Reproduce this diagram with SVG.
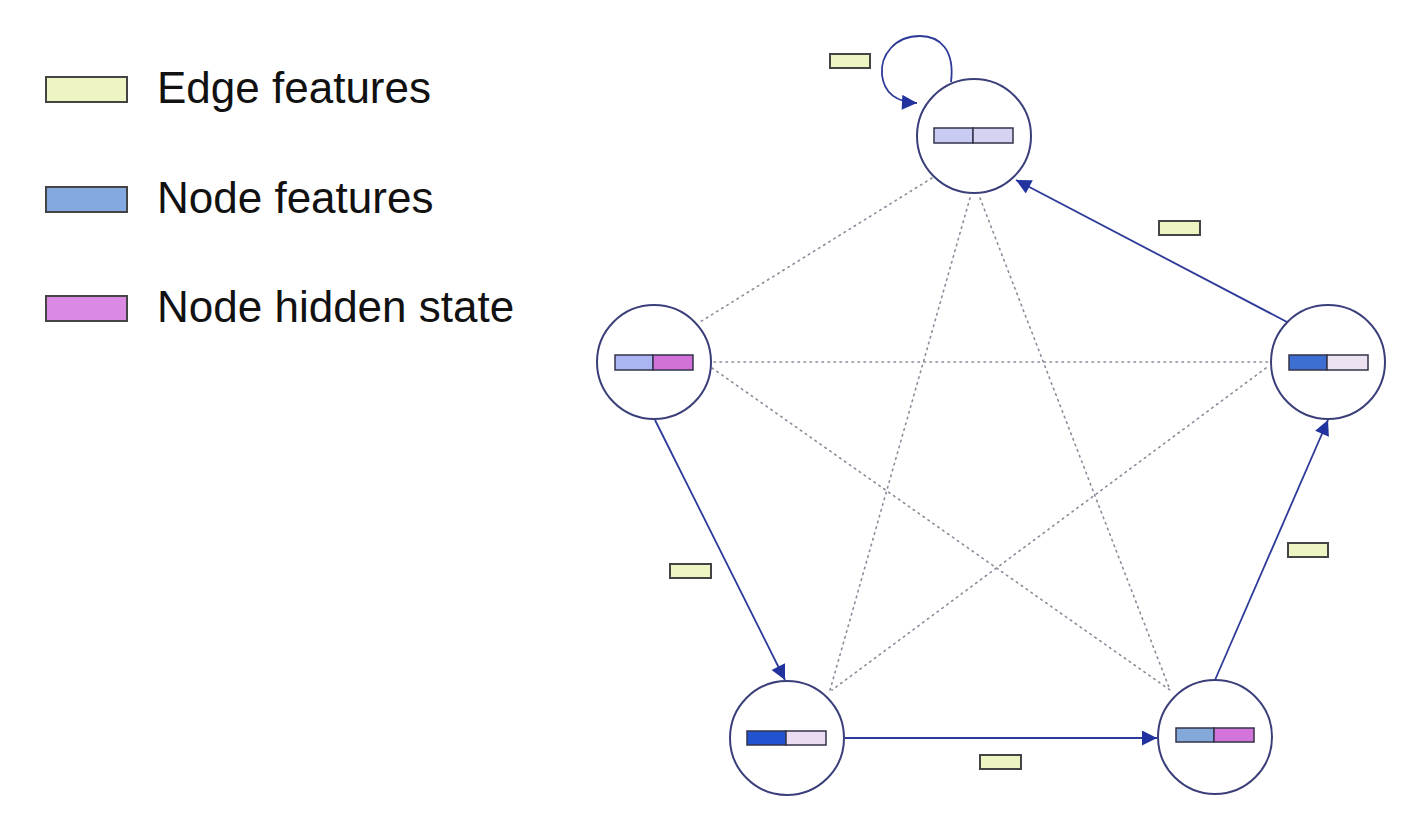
<svg xmlns="http://www.w3.org/2000/svg" width="1420" height="832" viewBox="0 0 1420 832">
<style>
.node{fill:#ffffff;stroke:#3a3f7a;stroke-width:2}
.bar{stroke:#33334a;stroke-width:1.5}
.ef{fill:#eef5c2;stroke:#444444;stroke-width:2}
.dot{fill:none;stroke:#8a8a9a;stroke-width:1.6;stroke-dasharray:1.5 4.5;stroke-linecap:round}
.arr{fill:none;stroke:#2d3a98;stroke-width:1.8}
.lbl{font-family:"Liberation Sans",Arial,sans-serif;font-size:44px;fill:#111111}
</style>
<defs>
<marker id="ah" viewBox="0 0 10 10" refX="10" refY="5" markerWidth="20" markerHeight="15" markerUnits="userSpaceOnUse" orient="auto">
<path d="M0,0 L10,5 L0,10 Z" fill="#2233a0"/>
</marker>
</defs>
<rect width="1420" height="832" fill="#ffffff"/>
<g id="legend">
<rect x="46" y="77" width="81" height="25" class="ef"/>
<text x="157" y="103" class="lbl">Edge features</text>
<rect x="46" y="187" width="81" height="25" fill="#84a8e0" stroke="#444" stroke-width="2"/>
<text x="157" y="213" class="lbl">Node features</text>
<rect x="46" y="296" width="81" height="25" fill="#da8ae2" stroke="#444" stroke-width="2"/>
<text x="157" y="322" class="lbl">Node hidden state</text>
</g>
<g id="connectors">
<line x1="932" y1="178" x2="700" y2="322" class="dot"/>
<line x1="970" y1="198" x2="830" y2="690" class="dot"/>
<line x1="980" y1="198" x2="1170" y2="690" class="dot"/>
<line x1="714" y1="362" x2="1268" y2="362" class="dot"/>
<line x1="712" y1="368" x2="1170" y2="690" class="dot"/>
<line x1="1266" y1="368" x2="832" y2="690" class="dot"/>
<line x1="655" y1="420" x2="785" y2="680" class="arr" marker-end="url(#ah)"/>
<line x1="845" y1="738" x2="1157" y2="738" class="arr" marker-end="url(#ah)"/>
<line x1="1215" y1="680" x2="1328" y2="420" class="arr" marker-end="url(#ah)"/>
<line x1="1287" y1="322" x2="1016" y2="180" class="arr" marker-end="url(#ah)"/>
<path d="M951,82 C955,50 940,36 920,36 C895,36 880,55 882,75 C884,92 895,102 917,103" class="arr" marker-end="url(#ah)"/>
</g>
<g id="edge-features">
<rect x="830" y="54" width="40" height="14" class="ef"/>
<rect x="1159" y="221" width="41" height="14" class="ef"/>
<rect x="670" y="564" width="41" height="14" class="ef"/>
<rect x="1288" y="543" width="40" height="14" class="ef"/>
<rect x="980" y="755" width="41" height="14" class="ef"/>
</g>
<g id="node-top">
<circle cx="974" cy="136" r="57" class="node"/>
<rect x="934" y="128" width="39" height="15" fill="#c8cbf2" class="bar"/>
<rect x="973" y="128" width="40" height="15" fill="#d6d2f2" class="bar"/>
</g>
<g id="node-left">
<circle cx="654" cy="362" r="57" class="node"/>
<rect x="615" y="355" width="38" height="15" fill="#a9b6f2" class="bar"/>
<rect x="653" y="355" width="40" height="15" fill="#d172d9" class="bar"/>
</g>
<g id="node-right">
<circle cx="1328" cy="362" r="57" class="node"/>
<rect x="1289" y="355" width="38" height="15" fill="#3d6fd2" class="bar"/>
<rect x="1327" y="355" width="41" height="15" fill="#ede2ef" class="bar"/>
</g>
<g id="node-bottom-left">
<circle cx="787" cy="738" r="57" class="node"/>
<rect x="747" y="731" width="39" height="14" fill="#2152d2" class="bar"/>
<rect x="786" y="731" width="40" height="14" fill="#ecdcf2" class="bar"/>
</g>
<g id="node-bottom-right">
<circle cx="1215" cy="737" r="57" class="node"/>
<rect x="1176" y="728" width="38" height="14" fill="#82a9da" class="bar"/>
<rect x="1214" y="728" width="40" height="14" fill="#d274da" class="bar"/>
</g>
</svg>
